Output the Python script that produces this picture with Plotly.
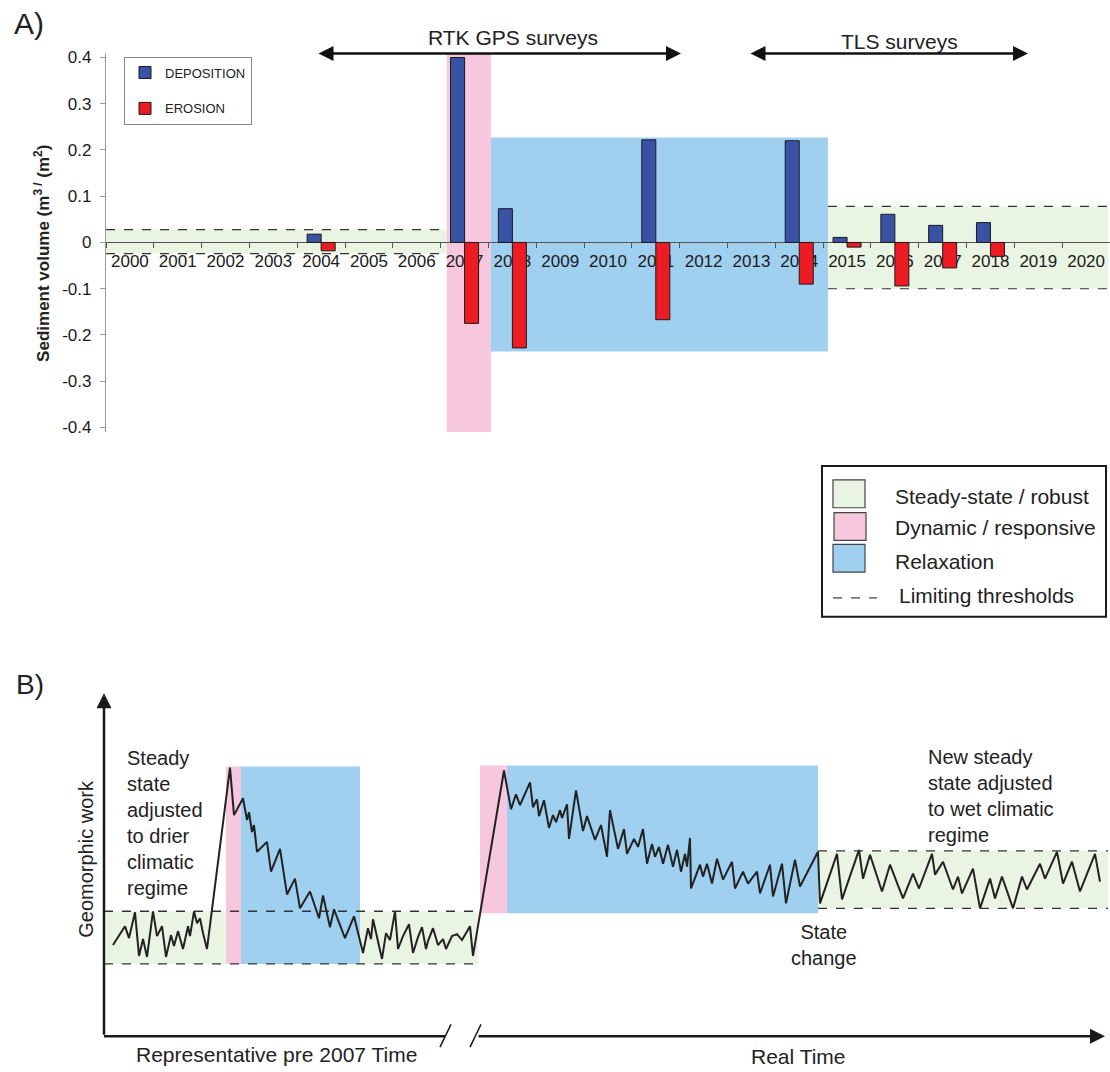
import plotly.graph_objects as go

W, H = 1110, 1072

# ---------------- Panel A data ----------------
years = [str(y) for y in range(2000, 2021)]
deposition = [None, None, None, None, 0.018, None, None, 0.400, 0.073, None, None,
              0.222, None, None, 0.220, 0.011, 0.061, 0.037, 0.043, None, None]
erosion = [None, None, None, None, -0.018, None, None, -0.175, -0.228, None, None,
           -0.167, None, None, -0.090, -0.010, -0.094, -0.055, -0.030, None, None]
y_ticks = [-0.4, -0.3, -0.2, -0.1, 0, 0.1, 0.2, 0.3, 0.4]
y_ticktext = ["-0.4", "-0.3", "-0.2", "-0.1", "0", "0.1", "0.2", "0.3", "0.4"]

# regimes in panel A (category-index units, volume units)
steady_left_A = (-0.5, 6.63, -0.024, 0.028)
dynamic_A = (6.63, 7.55, -0.41, 0.41)
relax_A = (7.55, 14.6, -0.236, 0.227)
steady_right_A = (14.6, 20.46, -0.100, 0.078)

# ---------------- Panel B data (schematic units) ----------------
bx = [9, 21, 25, 31, 35, 39, 43, 49, 53, 58, 62, 67, 70, 74, 79, 84, 86, 90, 93, 96, 99, 103,
      126, 130, 139, 143, 145, 148, 150, 153, 163, 167, 176, 183, 191, 196, 206, 215, 219, 226, 230, 241, 250, 259,
      264, 267, 269, 278, 282, 286, 291, 294, 299, 305, 309, 314, 318, 322, 324, 329, 334, 339, 342, 348, 353, 358, 366, 369,
      400, 407, 412, 416, 426, 429, 433, 435, 440, 445, 449, 452, 456, 458, 463, 465, 472, 479, 483, 491, 497, 503,
      506, 514, 520, 523, 530, 534, 539, 543, 548, 551, 555, 559, 564, 569, 573, 577, 581, 583, 586, 587, 596, 599,
      603, 608, 613, 619, 628, 631, 639, 644, 653, 656, 666, 669, 678, 682, 691, 696, 714,
      716, 733, 738, 755, 759, 766, 778, 786, 799, 809, 815, 828, 831, 839, 849, 854, 858, 869, 876, 886, 891, 898,
      909, 918, 923, 936, 941, 953, 959, 968, 976, 991, 996]
by = [92, 111, 99, 125, 81, 98, 80, 126, 101, 111, 80, 102, 91, 106, 88, 111, 101, 126, 114, 119, 104, 88,
      271, 223, 240, 218, 226, 206, 213, 186, 196, 166, 189, 143, 159, 129, 146, 119, 142, 110, 128, 99, 121, 84,
      109, 98, 118, 78, 104, 97, 126, 88, 101, 113, 84, 100, 110, 88, 96, 109, 92, 98, 88, 101, 103, 97, 111, 81,
      268, 229, 244, 233, 256, 231, 239, 222, 238, 210, 223, 216, 228, 220, 234, 199, 248, 207, 222, 198, 213, 181,
      228, 189, 209, 184, 199, 191, 209, 174, 194, 181, 191, 174, 193, 171, 188, 166, 184, 171, 200, 149, 173, 161,
      174, 154, 179, 158, 176, 149, 166, 154, 166, 144, 173, 141, 174, 134, 178, 151, 186,
      134, 184, 138, 188, 159, 183, 146, 173, 139, 164, 149, 184, 163, 176, 148, 161, 144, 169, 129, 159, 139, 161,
      129, 161, 148, 174, 159, 186, 154, 176, 146, 184, 156]

steady_left_B = (2, 374, 73, 126)
dynamic1_B = (122, 137, 73, 272)
relax1_B = (137, 256, 73, 272)
dynamic2_B = (376, 403, 124, 273)
relax2_B = (403, 714, 124, 273)
steady_right_B = (714, 1004, 129, 187)

DEP = "#3953a4"
ERO = "#ed1c24"
PINK = "#f7c7de"
BLUE = "#a0d0f0"
GREEN = "#e9f4e3"
DASH = "#333333"

FONT = "Liberation Sans, Arial, sans-serif"

fig = go.Figure()
fig.add_trace(go.Bar(x=years, y=deposition, name="DEPOSITION", legendgroup="d",
                     marker=dict(color=DEP, line=dict(color="#1a1a1a", width=1)),
                     xaxis="x", yaxis="y"))
fig.add_trace(go.Bar(x=years, y=erosion, name="EROSION", legendgroup="e",
                     marker=dict(color=ERO, line=dict(color="#1a1a1a", width=1)),
                     xaxis="x", yaxis="y"))
fig.add_trace(go.Scatter(x=bx, y=by, mode="lines", line=dict(color="#222222", width=2),
                         xaxis="x2", yaxis="y2", showlegend=False, hoverinfo="skip"))

shapes = []


def rect(r, color, xref, yref):
    shapes.append(dict(type="rect", xref=xref, yref=yref, x0=r[0], x1=r[1], y0=r[2], y1=r[3],
                       fillcolor=color, line=dict(width=0), layer="below"))


def dashed(x0, x1, y, xref, yref, w=1.2):
    shapes.append(dict(type="line", xref=xref, yref=yref, x0=x0, x1=x1, y0=y, y1=y,
                       line=dict(color=DASH, width=w, dash="dash"), layer="below"))


# Panel A regimes
rect(steady_left_A, GREEN, "x", "y")
rect(steady_right_A, GREEN, "x", "y")
rect(dynamic_A, PINK, "x", "y")
rect(relax_A, BLUE, "x", "y")
for yv in steady_left_A[2:]:
    dashed(steady_left_A[0], steady_left_A[1], yv, "x", "y")
for yv in steady_right_A[2:]:
    dashed(steady_right_A[0], steady_right_A[1], yv, "x", "y")

# Panel B regimes
rect(steady_left_B, GREEN, "x2", "y2")
rect(steady_right_B, GREEN, "x2", "y2")
rect(dynamic1_B, PINK, "x2", "y2")
rect(relax1_B, BLUE, "x2", "y2")
rect(dynamic2_B, PINK, "x2", "y2")
rect(relax2_B, BLUE, "x2", "y2")
for yv in steady_left_B[2:]:
    dashed(0, steady_left_B[1], yv, "x2", "y2", 1.4)
for yv in steady_right_B[2:]:
    dashed(steady_right_B[0], steady_right_B[1], yv, "x2", "y2", 1.4)

# Panel B axes (schematic)
AX = "#1a1a1a"
shapes.append(dict(type="line", xref="x2", yref="y2", x0=0, x1=341, y0=0, y1=0,
                   line=dict(color=AX, width=2.5)))
shapes.append(dict(type="line", xref="x2", yref="y2", x0=336, x1=347, y0=-11, y1=12,
                   line=dict(color=AX, width=1.5)))
shapes.append(dict(type="line", xref="x2", yref="y2", x0=366, x1=377, y0=-11, y1=12,
                   line=dict(color=AX, width=1.5)))


def px(x):
    return x / W


def py(y):
    return 1 - y / H


# Custom regime legend box
shapes.append(dict(type="rect", xref="paper", yref="paper", x0=px(822), x1=px(1106), y0=py(466), y1=py(618),
                   line=dict(color="#1a1a1a", width=2), fillcolor="white"))
for (y0, y1, c, xo) in [(480, 508, GREEN, 833), (513, 541, PINK, 834), (545, 573, BLUE, 833)]:
    shapes.append(dict(type="rect", xref="paper", yref="paper", x0=px(xo), x1=px(xo + 32), y0=py(y1), y1=py(y0),
                       line=dict(color="#444", width=1.2), fillcolor=c))
shapes.append(dict(type="line", xref="paper", yref="paper", x0=px(833), x1=px(877), y0=py(599), y1=py(599),
                   line=dict(color="#444", width=1.2, dash="dash")))

annotations = []


def txt(text, x, y, size, xanchor="center", yanchor="middle", family=FONT, angle=0, align="center",
        xref="paper", yref="paper", color="#222", bold=False):
    annotations.append(dict(text=("<b>%s</b>" % text) if bold else text, x=x, y=y, xref=xref, yref=yref,
                            showarrow=False, xanchor=xanchor, yanchor=yanchor, align=align,
                            textangle=angle, font=dict(size=size, family=family, color=color)))


txt("A)", px(29), py(20), 30)
txt("B)", px(30), py(686), 28)
txt("Sediment volume (m<sup>3 /</sup> (m<sup>2</sup>)", px(42), py(252), 17, angle=-90, bold=True)
txt("RTK GPS surveys", px(513), py(34), 21)
txt("TLS surveys", px(899), py(38), 21)

for legend_text, yy, xx in [("Steady-state / robust", 497, 893), ("Dynamic / responsive", 528, 893),
                            ("Relaxation", 562, 893), ("Limiting thresholds", 597, 897)]:
    txt(legend_text, px(xx), py(yy), 21, xanchor="left")

# arrows panel A
for tip, tail in [(681, 317), (1028, 749)]:
    annotations.append(dict(x=px(tip), y=py(50), xref="paper", yref="paper", ax=tail - tip, ay=0,
                            text="", showarrow=True, arrowhead=2, arrowside="end+start", arrowsize=1.2,
                            arrowwidth=2.5, arrowcolor="#111"))

# panel B axes arrows
annotations.append(dict(x=0, y=346, xref="x2", yref="y2", ax=0, ay=0, axref="x2", ayref="y2", text="",
                        showarrow=True, arrowhead=2, arrowsize=1.2, arrowwidth=2.5, arrowcolor=AX))
annotations.append(dict(x=1001, y=0, xref="x2", yref="y2", ax=373, ay=0, axref="x2", ayref="y2", text="",
                        showarrow=True, arrowhead=2, arrowsize=1.2, arrowwidth=2.5, arrowcolor=AX))

txt("Steady<br>state<br>adjusted<br>to drier<br>climatic<br>regime", 21, 294, 20, xanchor="left",
    yanchor="top", align="left", xref="x2", yref="y2")
txt("New steady<br>state adjusted<br>to wet climatic<br>regime", 822, 295, 20, xanchor="left",
    yanchor="top", align="left", xref="x2", yref="y2")
txt("State<br>change", 720, 118, 20, yanchor="top", xref="x2", yref="y2")
txt("Representative pre 2007 Time", 172, -18, 21, xref="x2", yref="y2")
txt("Real Time", 694, -20, 21, xref="x2", yref="y2")
txt("Geomorphic work", px(86), py(862), 20, angle=-90)

fig.update_layout(
    width=W, height=H, margin=dict(l=0, r=0, t=0, b=0),
    paper_bgcolor="white", plot_bgcolor="rgba(0,0,0,0)",
    font=dict(family=FONT, color="#222"),
    barmode="group", bargap=0.414, bargroupgap=0,
    showlegend=True,
    legend=dict(x=px(124), y=py(53), xanchor="left", yanchor="top", bgcolor="white",
                bordercolor="#888", borderwidth=1, font=dict(size=13, family=FONT, color="#222"),
                tracegroupgap=16, itemclick=False, itemdoubleclick=False),
    xaxis=dict(type="category", domain=[px(106), 1], range=[-0.5, 20.5], anchor="free",
               position=py(240.5), showline=True, linecolor="#555", linewidth=1,
               ticks="outside", tickson="boundaries", ticklen=5, tickcolor="#555",
               showgrid=False, zeroline=False, tickfont=dict(size=17, color="#1a1a1a"),
               ticklabelstandoff=3, layer="below traces", fixedrange=True),
    yaxis=dict(domain=[py(431.7), py(49.3)], range=[-0.41, 0.41], anchor="x",
               tickvals=y_ticks, ticktext=y_ticktext, showline=True, linecolor="#999",
               linewidth=1.2, ticks="outside", ticklen=5, tickcolor="#999", showgrid=False,
               zeroline=False, tickfont=dict(size=17, color="#1a1a1a"), ticklabelstandoff=5,
               fixedrange=True),
    xaxis2=dict(domain=[px(100), 1], range=[-4, 1006], visible=False, anchor="y2", fixedrange=True),
    yaxis2=dict(domain=[py(1071), py(690)], range=[-30, 351], visible=False, anchor="x2", fixedrange=True),
    shapes=shapes, annotations=annotations,
)

fig.write_html("out.html")
